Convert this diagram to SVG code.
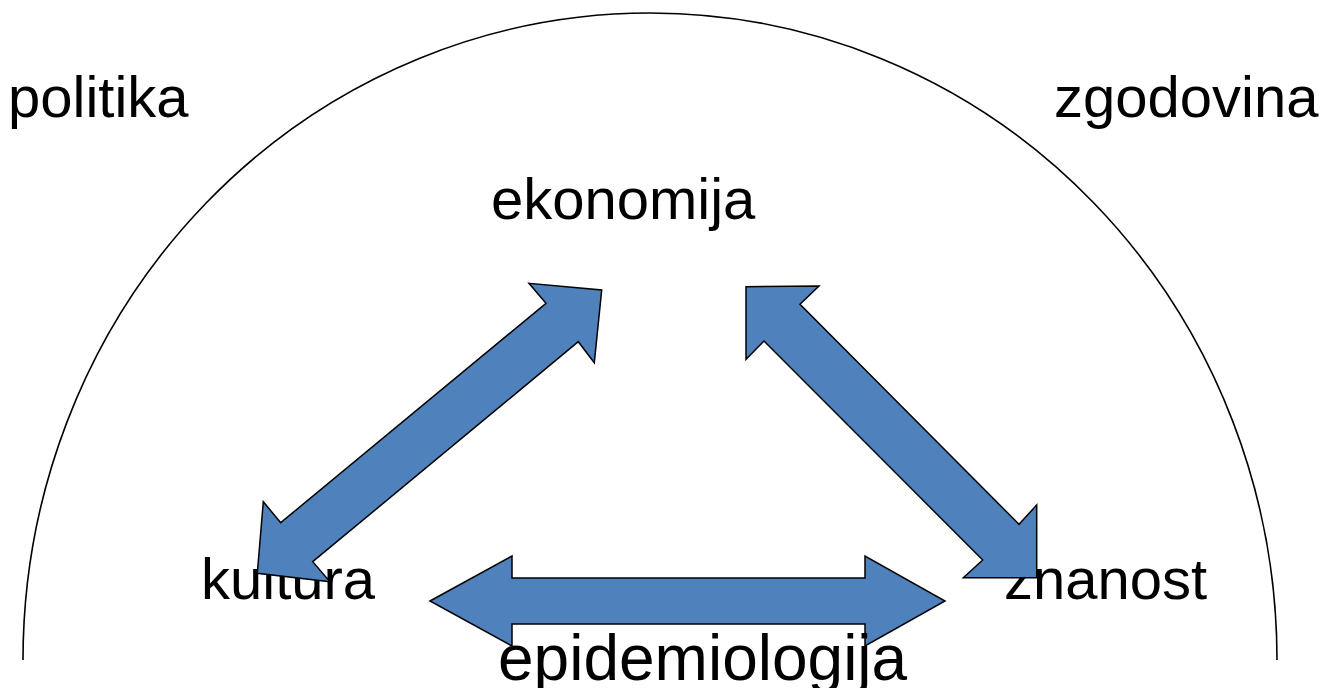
<svg xmlns="http://www.w3.org/2000/svg" width="1324" height="688" viewBox="0 0 1324 688">
<style>
.lbl{font-family:"Liberation Sans",Arial,sans-serif;font-size:58px;fill:#000}
.big{font-size:64px}
.arr{fill:#4F81BD;stroke:#000;stroke-width:1.5;stroke-linejoin:miter}
.arc{fill:none;stroke:#000;stroke-width:1.6}
</style>
<rect width="1324" height="688" fill="#fff"/>
<path class="arc" d="M 23 660 A 627 647 0 0 1 1277 660"/>
<g id="politika"><text class="lbl" x="8" y="117">politika</text></g>
<g id="zgodovina"><text class="lbl" x="1054" y="117">zgodovina</text></g>
<g id="ekonomija"><text class="lbl" x="491" y="219">ekonomija</text></g>
<g id="kultura"><text class="lbl" x="201" y="599">kultura</text></g>
<g id="znanost"><text class="lbl" x="1004" y="599">znanost</text></g>
<g id="connectors">
<polygon class="arr" points="601.7,290 594.3,362.7 578.3,341.7 312.7,561.7 330,581.7 257.3,573.3 263.3,501.7 280.7,522.7 546,303.3 529,283.3"/>
<polygon class="arr" points="746,286.7 819,286 800,304.3 1019,524.3 1036.7,505 1036.7,577.7 963.3,577.7 982.7,560 764,341 746,359.3"/>
<polygon class="arr" points="430,601 512,556 512,578 865,578 865,556 945,601 865,646 865,624 512,624 512,646"/>
</g>
<g id="epidemiologija"><text class="lbl big" x="498" y="680">epidemiologija</text></g>
</svg>
